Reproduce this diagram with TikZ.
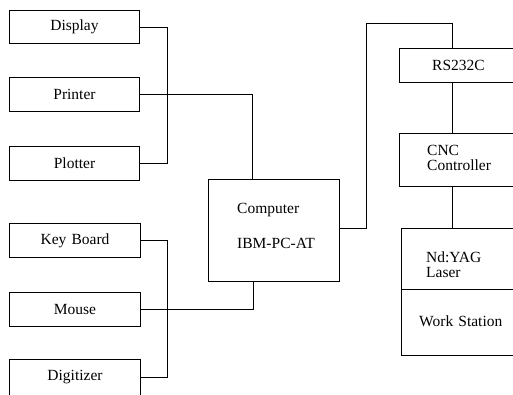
\documentclass[tikz,border=0pt]{standalone}
\usepackage{fontspec}
\setmainfont{Liberation Serif}
\begin{document}
\begin{tikzpicture}[x=1pt,y=-1pt,
  box/.style={draw,line width=1pt,rectangle,anchor=north west,inner sep=0pt,font=\fontsize{15.5}{17}\selectfont},
  lbl/.style={anchor=west,inner sep=0pt,font=\fontsize{15.5}{17}\selectfont,align=left},
  wire/.style={line width=1pt}]
\clip (0,0) rectangle (513,394);
\fill[white] (0,0) rectangle (513,394);
% left column
\node[box,minimum width=130pt,minimum height=33pt] (display) at (9,10) {Display};
\node[box,minimum width=130pt,minimum height=34pt] (printer) at (9,77) {Printer};
\node[box,minimum width=130pt,minimum height=34pt] (plotter) at (9,146) {Plotter};
\node[box,minimum width=131pt,minimum height=34pt] (keyboard) at (9,223) {Key\,\,Board};
\node[box,minimum width=131pt,minimum height=34pt] (mouse) at (9,292) {Mouse};
\node[box,minimum width=131pt,minimum height=36pt] (digitizer) at (9,359) {Digitizer};
% computer
\node[box,minimum width=131pt,minimum height=102pt] (computer) at (208,179) {};
\node[lbl] (comptxt) at (237,210) {Computer};
\node[lbl] (ibmtxt) at (237,243) {IBM-PC-AT};
% right column
\node[box,minimum width=130pt,minimum height=34pt] (rs) at (399,48) {};
\node[lbl] (rstxt) at (432,65) {RS232C};
\node[box,minimum width=130pt,minimum height=53pt] (cnc) at (399,133) {};
\node[lbl,font=\fontsize{15.5}{15}\selectfont] (cnctxt) at (427,158) {CNC\\Controller};
\node[box,minimum width=130pt,minimum height=61pt] (laser) at (401,228) {};
\node[lbl,font=\fontsize{15.5}{15}\selectfont] (lasertxt) at (426,265) {Nd:YAG\\Laser};
\node[box,minimum width=130pt,minimum height=66pt] (work) at (401,289) {};
\node[lbl] (worktxt) at (419,321) {Work\,\,Station};
% connectors
\draw[wire] (display.east) -- ++(27,0) |- (plotter.east);
\draw[wire] (printer.east) -| ([xshift=44pt]computer.north west);
\draw[wire] (keyboard.east) -- ++(26,0) |- (digitizer.east);
\draw[wire] (mouse.east) -| ([xshift=45pt]computer.south west);
\draw[wire] ([yshift=2pt]computer.east) -| (366,23) -| ([xshift=53pt]rs.north west);
\draw[wire] ([xshift=53pt]rs.south west) -- ([xshift=53pt]cnc.north west);
\draw[wire] ([xshift=53pt]cnc.south west) -- ([xshift=51pt]laser.north west);
\end{tikzpicture}
\end{document}
